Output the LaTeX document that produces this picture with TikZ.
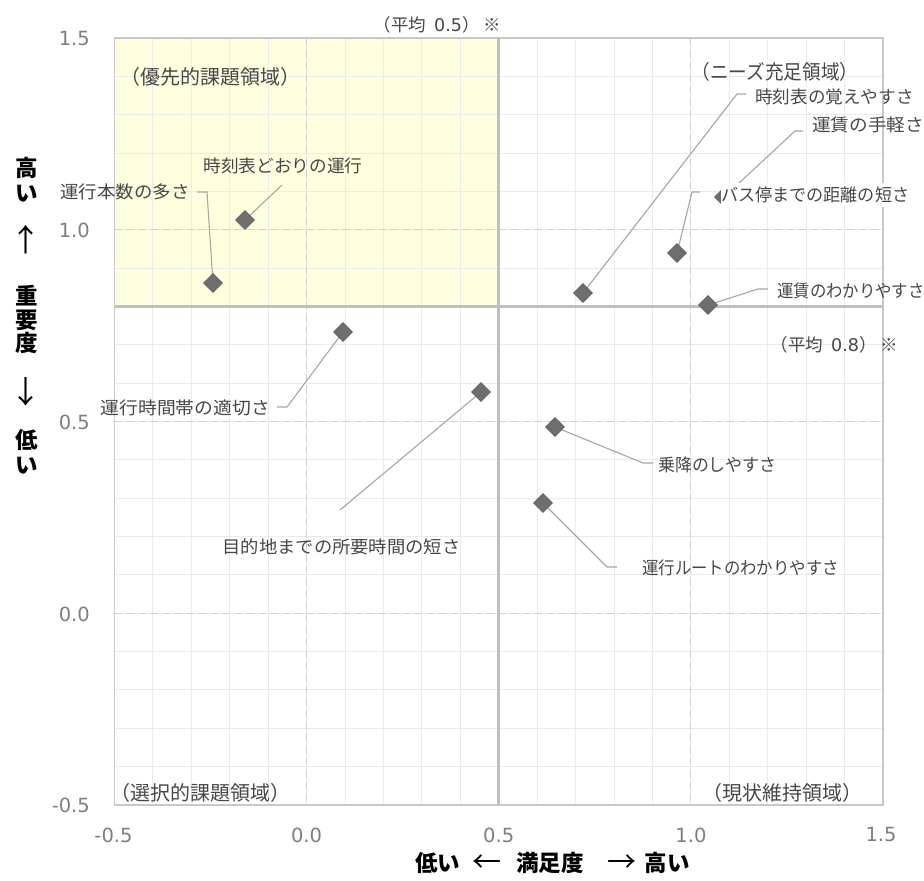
\documentclass[tikz,border=0pt]{standalone}
\usepackage{fontspec}
\usepackage{graphicx}
\newfontfamily\jp{Noto Sans CJK JP}
\newfontfamily\dv{DejaVu Sans}
\usetikzlibrary{shapes.geometric}
\definecolor{tickc}{HTML}{7F7F7F}
\definecolor{lblc}{HTML}{474747}
\definecolor{leadc}{HTML}{A6A6A6}
\definecolor{dia}{HTML}{6E6E6E}
\definecolor{minorc}{HTML}{EBEBEB}
\definecolor{majorc}{HTML}{CFCFCF}
\definecolor{avgc}{HTML}{BFBFBF}
\definecolor{framec}{HTML}{C8C8C8}
\definecolor{yel}{HTML}{FFFFE0}
\newcommand\fsz[1]{\fontsize{#1}{#1}\selectfont}
\newcommand\sx[2]{\scalebox{#1}[1]{#2}}
\tikzset{
  minorgrid/.style={draw=minorc, line width=1pt},
  majorgrid/.style={draw=majorc, line width=1pt, dash pattern=on 7pt off 5pt},
  avgline/.style={draw=avgc, line width=3pt},
  frameline/.style={draw=framec, line width=1.3pt},
  leader/.style={draw=leadc, line width=1.1pt},
  marker/.style={diamond, fill=dia, draw=dia!85!black, line width=0.6pt, minimum width=19pt, minimum height=19pt, inner sep=0pt},
  lbl/.style={font=\jp\fsz{17.5}, text=lblc, inner sep=0pt, text height=14.9pt, text depth=1.75pt},
  qlbl/.style={font=\jp\fsz{20}, text=lblc, inner sep=0pt, text height=17pt, text depth=2pt},
  ticklbl/.style={font=\dv\fsz{19.5}, text=tickc, inner sep=0pt},
  ttl/.style={font=\jp\bfseries\fsz{22.5}, text=black, inner sep=0pt, text height=19.5pt, text depth=2.5pt},
  arr/.style={font=\jp\fsz{31}, text=black, inner sep=0pt},
}
\begin{document}
\begin{tikzpicture}[x=1pt,y=-1pt]
\useasboundingbox (0,0) rectangle (924,881);
\fill[white] (0,0) rectangle (924,881);
% priority quadrant
\fill[yel] (114.5,38) rectangle (498.75,306.4);
% minor grid
\foreach \i in {1,...,19} {
  \draw[minorgrid] ({114.5+\i*38.425},38) -- ({114.5+\i*38.425},805);
  \draw[minorgrid] (114.5,{38+\i*38.35}) -- (883,{38+\i*38.35});
}
% major dashed grid
\foreach \xx in {306.6,690.9} \draw[majorgrid] (\xx,38) -- (\xx,805);
\foreach \yy in {229.75,421.5,613.25} \draw[majorgrid] (114.5,\yy) -- (883,\yy);
% frame
\draw[frameline] (114.5,38) rectangle (883,805);
% average lines
\draw[avgline] (498.75,38) -- (498.75,805);
\draw[avgline] (114.5,306.4) -- (883,306.4);

% data point positions
\coordinate (c1) at (213,283);
\coordinate (c2) at (245,220);
\coordinate (c3) at (583,293);
\coordinate (c4) at (677,253);
\coordinate (c5) at (708,305);
\coordinate (c6) at (343,332);
\coordinate (c7) at (481,392);
\coordinate (c8) at (555,427);
\coordinate (c9) at (543,503);
\coordinate (c10) at (724,197);
% leader bend / end points
\coordinate (b1) at (207,192); \coordinate (e1) at (197,192);
\coordinate (e2) at (282,185);
\coordinate (b3) at (737,94);  \coordinate (e3) at (746,94);
\coordinate (b10) at (795,131); \coordinate (e10) at (803,131);
\coordinate (b4) at (692,192); \coordinate (e4) at (700,192);
\coordinate (b5) at (758,289); \coordinate (e5) at (768,289);
\coordinate (b6) at (287,407); \coordinate (e6) at (277,407);
\coordinate (e7) at (340,510);
\coordinate (b8) at (643,463); \coordinate (e8) at (653,463);
\coordinate (b9) at (607,567); \coordinate (e9) at (617,567);

% leaders
\draw[leader] (c1) -- (b1) -- (e1);
\draw[leader] (c2) -- (e2);
\draw[leader] (c3) -- (b3) -- (e3);
\draw[leader] (c10) -- (b10) -- (e10);
\draw[leader] (c4) -- (b4) -- (e4);
\draw[leader] (c5) -- (b5) -- (e5);
\draw[leader] (c6) -- (b6) -- (e6);
\draw[leader] (c7) -- (e7);
\draw[leader] (c8) -- (b8) -- (e8);
\draw[leader] (c9) -- (b9) -- (e9);

% markers
\foreach \k in {1,...,10} \node[marker] (p\k) at (c\k) {};

% data labels
\node[lbl, anchor=east] (l1) at (190,192) {\sx{1.057}{運行本数の多さ}};
\node[lbl] (l2) at (283,166) {\sx{1.011}{時刻表どおりの運行}};
\node[lbl, anchor=west] (l3) at (755,97) {\sx{1.006}{時刻表の覚えやすさ}};
\node[lbl, anchor=west] (l10) at (812,125) {\sx{1.063}{運賃の手軽さ}};
\node[lbl, anchor=west, fill=white, inner ysep=4pt] (l4) at (721,195) {\sx{0.977}{バス停までの距離の短さ}};
\node[lbl, anchor=west] (l5) at (777,291) {\sx{0.937}{運賃のわかりやすさ}};
\node[lbl, anchor=east] (l6) at (270,408) {\sx{1.074}{運行時間帯の適切さ}};
\node[lbl] (l7) at (341.5,547) {\sx{1.046}{目的地までの所要時間の短さ}};
\node[lbl, anchor=west] (l8) at (658,465) {\sx{0.966}{乗降のしやすさ}};
\node[lbl, anchor=west] (l9) at (642,568) {\sx{0.937}{運行ルートのわかりやすさ}};

% quadrant labels
\node[qlbl] (q1) at (210,77) {（優先的課題領域）};
\node[qlbl] (q2) at (775,72) {\sx{0.93}{（ニーズ充足領域）}};
\node[qlbl] (q3) at (200,793) {（選択的課題領域）};
\node[qlbl] (q4) at (782,793) {（現状維持領域）};

% average labels
\node[lbl, anchor=west] (avx) at (373.5,25) {（平均\hspace{8pt}{\dv 0.5}）\hspace{4pt}※};
\node[lbl, anchor=west] (avy) at (770.5,345) {（平均\hspace{8pt}{\dv 0.8}）\hspace{4pt}※};

% y tick labels
\node[ticklbl, anchor=east] (ty1) at (90,39) {1.5};
\node[ticklbl, anchor=east] (ty2) at (90,230.5) {1.0};
\node[ticklbl, anchor=east] (ty3) at (90,422) {0.5};
\node[ticklbl, anchor=east] (ty4) at (90,614) {0.0};
\node[ticklbl, anchor=east] (ty5) at (90,805) {-0.5};
% x tick labels
\node[ticklbl] (tx1) at (113.5,835) {-0.5};
\node[ticklbl] (tx2) at (306.6,835) {0.0};
\node[ticklbl] (tx3) at (498.75,835) {0.5};
\node[ticklbl] (tx4) at (690.9,835) {1.0};
\node[ticklbl] (tx5) at (881,835) {1.5};

% vertical axis title
\node[ttl] (yta) at (27,168) {高};
\node[ttl] (ytb) at (27,193) {い};
\node[arr] (ytc) at (26,240) {↑};
\node[ttl] (ytd) at (27,296) {重};
\node[ttl] (yte) at (27,320) {要};
\node[ttl] (ytf) at (27,343) {度};
\node[arr] (ytg) at (26,392) {↓};
\node[ttl] (yth) at (27,440) {低};
\node[ttl] (yti) at (27,465) {い};

% horizontal axis title
\node[ttl, anchor=west] (xt) at (415,863) {低い\hspace{12pt}{\mdseries\fsz{29}\raisebox{-1pt}{←}}\hspace{15pt}満足度\hspace{24pt}{\mdseries\fsz{29}\raisebox{-1pt}{→}}\hspace{8pt}高い};
\end{tikzpicture}
\end{document}
